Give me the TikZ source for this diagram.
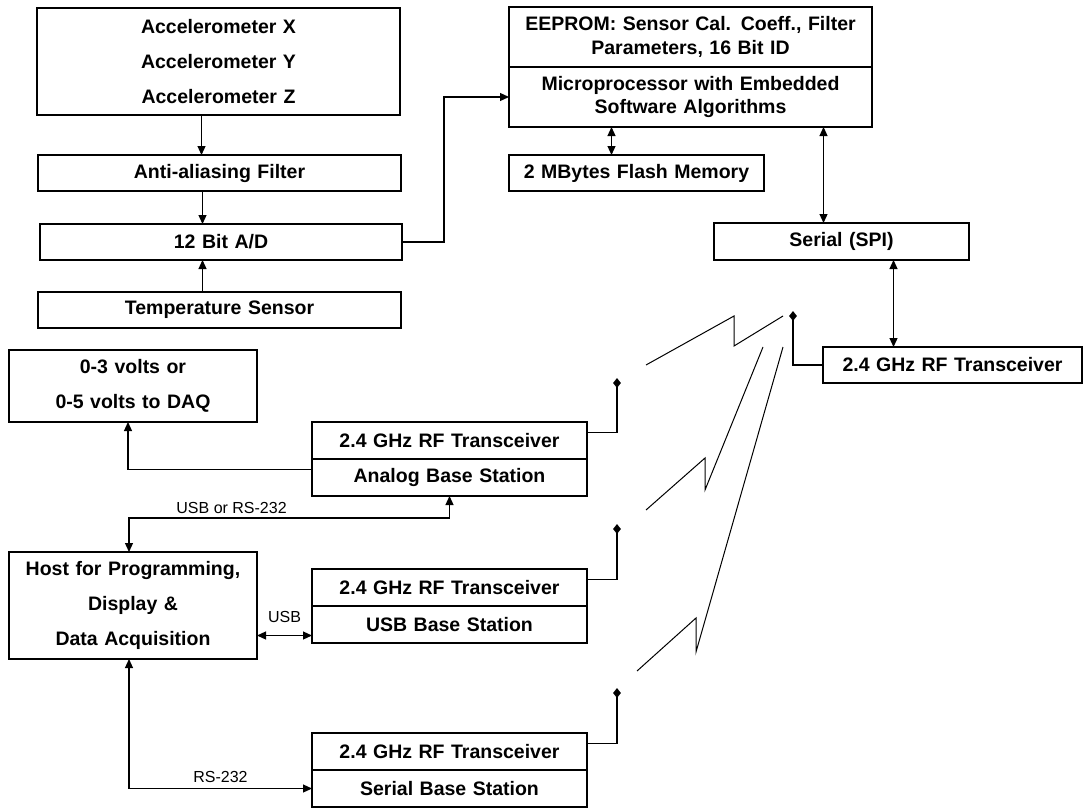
\documentclass[tikz,border=0pt]{standalone}
\usepackage{fontspec}
\setmainfont{Liberation Sans}
\usetikzlibrary{shapes,arrows.meta,positioning,calc}
\pgfdeclarelayer{bg}
\pgfsetlayers{bg,main}
\tikzstyle{block} = [rectangle, draw, line width=1.2pt, text centered, minimum height=37pt, outer sep=0pt, inner sep=0pt, anchor=center, font=\fontsize{19.5}{23.4}\selectfont\bfseries]
\tikzstyle{anttip} = [diamond, fill, draw=none, inner sep=0pt, minimum width=8pt, minimum height=10pt]
\tikzstyle{line} = [draw, -{Triangle[length=9pt,width=8pt]}, line width=1.2pt]
\tikzstyle{dline} = [draw, {Triangle[length=9pt,width=8pt]}-{Triangle[length=9pt,width=8pt]}, line width=1.2pt]
\tikzstyle{wire} = [draw, line width=1.2pt]
\tikzstyle{lbl} = [font=\fontsize{16}{19}\selectfont]

\begin{document}
\begin{tikzpicture}[x=1pt, y=-1pt]
    \useasboundingbox (0,0) rectangle (1091,808);

    \node[block, text width=363pt, minimum height=107pt] (accel) at (218.5,61.5) {Accelerometer X\\[12pt] Accelerometer Y\\[12pt] Accelerometer Z};
    \node[block, text width=363pt, minimum height=36pt] (filter) at (219.5,173) {Anti-aliasing Filter};
    \node[block, text width=362pt, minimum height=36pt] (adc) at (221,242) {12 Bit A/D};
    \node[block, text width=363pt, minimum height=36pt] (temp) at (219.5,310) {Temperature Sensor};

    \node[block, text width=363pt, minimum height=60pt] (eeprom) at (690.5,37) {EEPROM: Sensor Cal. Coeff., Filter\\ Parameters, 16 Bit ID};
    \node[block, text width=363pt, minimum height=60pt, below=0pt of eeprom] (micro) {Microprocessor with Embedded\\ Software Algorithms};
    \node[block, text width=255pt, minimum height=36pt] (flash) at (636.5,173) {2 MBytes Flash Memory};
    \node[block, text width=255pt] (spi) at (841.5,241.5) {Serial (SPI)};
    \node[block, text width=259pt, minimum height=36pt] (rfmain) at (952.5,365) {2.4 GHz RF Transceiver};

    \node[block, text width=248pt, minimum height=72pt] (daq) at (133,386) {0-3 volts or\\[12pt] 0-5 volts to DAQ};
    \node[block, text width=248pt, minimum height=107pt] (host) at (133,605.5) {Host for Programming,\\[12pt] Display \&\\[12pt] Data Acquisition};

    \node[block, text width=275pt] (anarf) at (449.5,440.5) {2.4 GHz RF Transceiver};
    \node[block, text width=275pt, below=0pt of anarf] (anabase) {Analog Base Station};
    \node[block, text width=275pt] (usbrf) at (449.5,587.5) {2.4 GHz RF Transceiver};
    \node[block, text width=275pt, below=0pt of usbrf] (usbbase) {USB Base Station};
    \node[block, text width=275pt] (serrf) at (449.5,751.5) {2.4 GHz RF Transceiver};
    \node[block, text width=275pt, below=0pt of serrf] (serbase) {Serial Base Station};

    \node[anttip] (antmain) at (793,316) {};
    \node[anttip] (antana) at (617,383) {};
    \node[anttip] (antusb) at (617,529) {};
    \node[anttip] (antser) at (617,693) {};

    \begin{pgfonlayer}{bg}
        \draw[line] ([xshift=-17pt]accel.south) to ([xshift=-17pt]accel.south |- filter.north);
        \draw[line] ([xshift=-17pt]filter.south) to ([xshift=-17pt]filter.south |- adc.north);
        \draw[line] ([xshift=-17pt]temp.north) to ([xshift=-17pt]temp.north |- adc.south);
        \draw[line] (adc.east) -- ++(42,0) |- (micro.west);

        \draw[dline] ([xshift=-25pt]flash.north) to ([xshift=-25pt]flash.north |- micro.south);
        \draw[dline] ([xshift=-18pt]spi.north) to ([xshift=-18pt]spi.north |- micro.south);
        \draw[dline] ([xshift=52pt]spi.south) to ([xshift=52pt]spi.south |- rfmain.north);

        \draw[wire] (antmain.center) |- (rfmain.west);
        \draw[wire] (antana.center) |- ([yshift=8pt]anarf.east);
        \draw[wire] (antusb.center) |- ([yshift=8pt]usbrf.east);
        \draw[wire] (antser.center) |- ([yshift=8pt]serrf.east);

        \draw[line] ([yshift=8pt]anabase.west) -| ([xshift=-5pt]daq.south);
        \draw[dline] (anabase.south) -- ++(0,22) -| node[lbl, pos=0.34, above] {USB or RS-232} ([xshift=-4pt]host.north);
        \draw[dline] ([yshift=-11pt]usbbase.west) to node[lbl, above=9pt] {USB} ([yshift=-11pt]usbbase.west -| host.east);
        \draw[dline] ([xshift=-4pt]host.south) |- node[lbl, pos=0.75, above=2pt] {RS-232} (serbase.west);
    \end{pgfonlayer}

    \draw[line width=1pt] (646,365) -- (734,316) -- (734,346) -- (783,316);
    \draw[line width=1pt] (646,510) -- (705,458) -- (705,490) -- (763,347);
    \draw[line width=1pt] (637,671) -- (696,618) -- (696,652) -- (783,347);
\end{tikzpicture}
\end{document}
